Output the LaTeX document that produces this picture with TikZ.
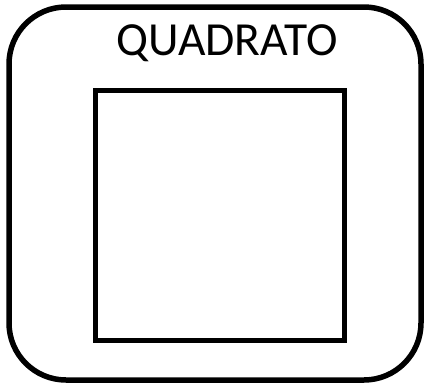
\documentclass[tikz,border=0pt]{standalone}
\usepackage{fontspec}
\setmainfont{Carlito}
\begin{document}
\begin{tikzpicture}[x=1pt,y=-1pt,
  outerbox/.style={draw=black,line width=5.5pt,rounded corners=57pt},
  innerbox/.style={draw=black,line width=5pt},
  titletext/.style={font=\fontsize{47.5}{50}\selectfont,anchor=base,inner sep=0pt}]
\useasboundingbox (0,0) rectangle (426,386);
\draw[outerbox] (9,7) rectangle (421,380);
\draw[innerbox] (95.5,90) rectangle (344.5,340);
\node[titletext] (title) at (227,55) {QUADRATO};
\end{tikzpicture}
\end{document}
